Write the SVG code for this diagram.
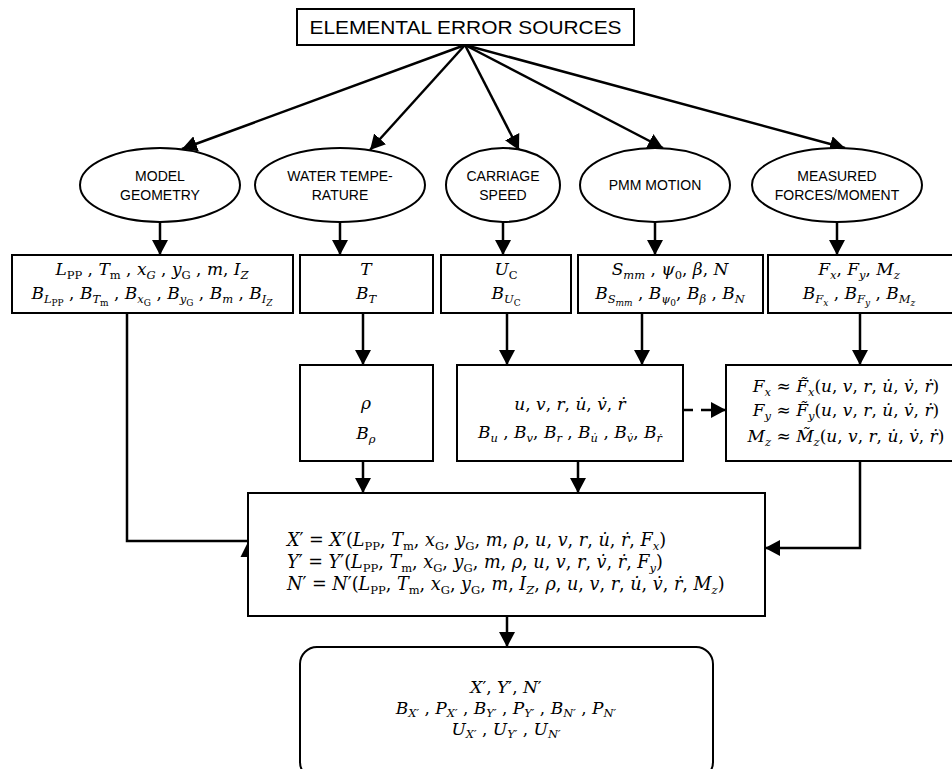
<svg xmlns="http://www.w3.org/2000/svg" width="952" height="769" viewBox="0 0 952 769">
<style>
.bx{fill:#fff;stroke:#000;stroke-width:2}
.lbl{font-family:"Liberation Sans",Arial,sans-serif;font-size:14px;text-anchor:middle;fill:#000}
.ttl{font-family:"Liberation Sans",Arial,sans-serif;font-size:19px;text-anchor:middle;fill:#000}
.m{font-family:"DejaVu Serif","Liberation Serif",serif;font-size:17px;fill:#000;text-anchor:middle}
.mb{font-size:17.6px}
.l{text-anchor:start}
.i{font-style:italic}
.sb{font-size:11.5px}
.ss{font-size:9px}
.c{fill:none;stroke:#000;stroke-width:2.5}
.d{fill:none;stroke:#000;stroke-width:2.5;stroke-dasharray:10,8}
</style>
<defs>
<marker id="ah" markerUnits="userSpaceOnUse" markerWidth="15" markerHeight="16" refX="15" refY="8" orient="auto">
<path d="M0,0 L15,8 L0,16 z" fill="#000"/>
</marker>
</defs>

<g id="connectors">
<line class="c" x1="465" y1="45" x2="182" y2="149" marker-end="url(#ah)"/>
<line class="c" x1="465" y1="45" x2="370" y2="150" marker-end="url(#ah)"/>
<line class="c" x1="465" y1="45" x2="519" y2="150" marker-end="url(#ah)"/>
<line class="c" x1="465" y1="45" x2="663" y2="148" marker-end="url(#ah)"/>
<line class="c" x1="465" y1="45" x2="845" y2="148" marker-end="url(#ah)"/>
<line class="c" x1="160" y1="222" x2="160" y2="255" marker-end="url(#ah)"/>
<line class="c" x1="340" y1="222" x2="340" y2="255" marker-end="url(#ah)"/>
<line class="c" x1="503" y1="222" x2="503" y2="255" marker-end="url(#ah)"/>
<line class="c" x1="655" y1="222" x2="655" y2="255" marker-end="url(#ah)"/>
<line class="c" x1="837" y1="222" x2="837" y2="255" marker-end="url(#ah)"/>
<polyline class="c" points="127,313 127,541 248,541"/>
<polygon points="248,542 240.5,557 255.5,557" fill="#000"/>
<line class="c" x1="363" y1="313" x2="363" y2="365" marker-end="url(#ah)"/>
<line class="c" x1="507" y1="313" x2="507" y2="365" marker-end="url(#ah)"/>
<line class="c" x1="642" y1="313" x2="642" y2="365" marker-end="url(#ah)"/>
<line class="c" x1="860" y1="313" x2="860" y2="365" marker-end="url(#ah)"/>
<line class="c" x1="363" y1="461" x2="363" y2="493" marker-end="url(#ah)"/>
<line class="c" x1="578" y1="461" x2="578" y2="493" marker-end="url(#ah)"/>
<line class="d" x1="683" y1="410" x2="726" y2="410" marker-end="url(#ah)"/>
<polyline class="c" points="860,461 860,548 765,548" marker-end="url(#ah)"/>
<line class="c" x1="507" y1="616" x2="507" y2="647" marker-end="url(#ah)"/>
</g>

<g id="n-top">
<rect class="bx" x="297" y="9" width="337" height="36"/>
<text class="ttl" x="465.5" y="34" textLength="312" lengthAdjust="spacingAndGlyphs">ELEMENTAL ERROR SOURCES</text>
</g>

<g id="n-model">
<ellipse class="bx" cx="160" cy="185" rx="80" ry="37"/>
<text class="lbl" x="160" y="181">MODEL</text>
<text class="lbl" x="160" y="200">GEOMETRY</text>
</g>
<g id="n-water">
<ellipse class="bx" cx="340" cy="185" rx="85" ry="37"/>
<text class="lbl" x="340" y="181">WATER TEMPE-</text>
<text class="lbl" x="340" y="200">RATURE</text>
</g>
<g id="n-carriage">
<ellipse class="bx" cx="503" cy="185" rx="57" ry="37"/>
<text class="lbl" x="503" y="181">CARRIAGE</text>
<text class="lbl" x="503" y="200">SPEED</text>
</g>
<g id="n-pmm">
<ellipse class="bx" cx="655" cy="185" rx="75" ry="37"/>
<text class="lbl" x="655" y="190">PMM MOTION</text>
</g>
<g id="n-measured">
<ellipse class="bx" cx="837" cy="185" rx="85" ry="37"/>
<text class="lbl" x="837" y="181">MEASURED</text>
<text class="lbl" x="837" y="200">FORCES/MOMENT</text>
</g>

<g id="n-geom">
<rect class="bx" x="12" y="255" width="281" height="58"/>
<text class="m" x="152" y="275"><tspan class="i">L</tspan><tspan class="sb" dy="4">PP</tspan><tspan dy="-4"> , </tspan><tspan class="i">T</tspan><tspan class="sb" dy="4">m</tspan><tspan dy="-4"> , </tspan><tspan class="i">x</tspan><tspan class="sb i" dy="4">G</tspan><tspan dy="-4"> , </tspan><tspan class="i">y</tspan><tspan class="sb" dy="4">G</tspan><tspan dy="-4"> , </tspan><tspan class="i">m</tspan><tspan>, </tspan><tspan class="i">I</tspan><tspan class="sb i" dy="4">Z</tspan></text>
<text class="m" x="152" y="299"><tspan class="i">B</tspan><tspan class="sb i" dy="4">L</tspan><tspan class="ss" dy="3">PP</tspan><tspan dy="-7"> , </tspan><tspan class="i">B</tspan><tspan class="sb i" dy="4">T</tspan><tspan class="ss" dy="3">m</tspan><tspan dy="-7"> ,  </tspan><tspan class="i">B</tspan><tspan class="sb i" dy="4">x</tspan><tspan class="ss" dy="3">G</tspan><tspan dy="-7"> , </tspan><tspan class="i">B</tspan><tspan class="sb i" dy="4">y</tspan><tspan class="ss" dy="3">G</tspan><tspan dy="-7"> , </tspan><tspan class="i">B</tspan><tspan class="sb i" dy="4">m</tspan><tspan dy="-4"> , </tspan><tspan class="i">B</tspan><tspan class="sb i" dy="4">I</tspan><tspan class="ss i" dy="3">Z</tspan></text>
</g>

<g id="n-temp">
<rect class="bx" x="300" y="255" width="133" height="58"/>
<text class="m i" x="366" y="275">T</text>
<text class="m" x="366" y="299"><tspan class="i">B</tspan><tspan class="sb i" dy="4">T</tspan></text>
</g>

<g id="n-speed">
<rect class="bx" x="441" y="255" width="130" height="58"/>
<text class="m" x="506" y="275"><tspan class="i">U</tspan><tspan class="sb" dy="4">C</tspan></text>
<text class="m" x="506" y="299"><tspan class="i">B</tspan><tspan class="sb i" dy="4">U</tspan><tspan class="ss" dy="3">C</tspan></text>
</g>

<g id="n-motion">
<rect class="bx" x="578" y="255" width="185" height="58"/>
<text class="m" x="670" y="275"><tspan class="i">S</tspan><tspan class="sb i" dy="4">mm</tspan><tspan dy="-4"> , </tspan><tspan class="i">ψ</tspan><tspan class="sb" dy="4">0</tspan><tspan dy="-4">, </tspan><tspan class="i">β</tspan><tspan>, </tspan><tspan class="i">N</tspan></text>
<text class="m" x="670" y="299"><tspan class="i">B</tspan><tspan class="sb i" dy="4">S</tspan><tspan class="ss i" dy="3">mm</tspan><tspan dy="-7"> , </tspan><tspan class="i">B</tspan><tspan class="sb i" dy="4">ψ</tspan><tspan class="ss" dy="3">0</tspan><tspan dy="-7">, </tspan><tspan class="i">B</tspan><tspan class="sb i" dy="4">β</tspan><tspan dy="-4"> , </tspan><tspan class="i">B</tspan><tspan class="sb i" dy="4">N</tspan></text>
</g>

<g id="n-forces">
<rect class="bx" x="768" y="255" width="190" height="58"/>
<text class="m" x="859" y="275"><tspan class="i">F</tspan><tspan class="sb i" dy="4">x</tspan><tspan dy="-4">, </tspan><tspan class="i">F</tspan><tspan class="sb i" dy="4">y</tspan><tspan dy="-4">, </tspan><tspan class="i">M</tspan><tspan class="sb i" dy="4">z</tspan></text>
<text class="m" x="859" y="299"><tspan class="i">B</tspan><tspan class="sb i" dy="4">F</tspan><tspan class="ss i" dy="3">x</tspan><tspan dy="-7"> , </tspan><tspan class="i">B</tspan><tspan class="sb i" dy="4">F</tspan><tspan class="ss i" dy="3">y</tspan><tspan dy="-7"> , </tspan><tspan class="i">B</tspan><tspan class="sb i" dy="4">M</tspan><tspan class="ss i" dy="3">z</tspan></text>
</g>

<g id="n-rho">
<rect class="bx" x="300" y="365" width="133" height="96"/>
<text class="m i" x="366" y="409">ρ</text>
<text class="m" x="366" y="439"><tspan class="i">B</tspan><tspan class="sb i" dy="4">ρ</tspan></text>
</g>

<g id="n-kin">
<rect class="bx" x="457" y="365" width="226" height="96"/>
<text class="m" x="570" y="410"><tspan class="i">u</tspan>, <tspan class="i">v</tspan>, <tspan class="i">r</tspan>, <tspan class="i">u̇</tspan>, <tspan class="i">v̇</tspan>, <tspan class="i">ṙ</tspan></text>
<text class="m" x="570" y="438"><tspan class="i">B</tspan><tspan class="sb i" dy="4">u</tspan><tspan dy="-4"> , </tspan><tspan class="i">B</tspan><tspan class="sb i" dy="4">v</tspan><tspan dy="-4">, </tspan><tspan class="i">B</tspan><tspan class="sb i" dy="4">r</tspan><tspan dy="-4"> , </tspan><tspan class="i">B</tspan><tspan class="sb i" dy="4">u̇</tspan><tspan dy="-4"> , </tspan><tspan class="i">B</tspan><tspan class="sb i" dy="4">v̇</tspan><tspan dy="-4">, </tspan><tspan class="i">B</tspan><tspan class="sb i" dy="4">ṙ</tspan></text>
</g>

<g id="n-approx">
<rect class="bx" x="726" y="365" width="232" height="96"/>
<text class="m" x="846" y="392"><tspan class="i">F</tspan><tspan class="sb i" dy="4">x</tspan><tspan dy="-4"> ≈ </tspan><tspan class="i">F̃</tspan><tspan class="sb i" dy="4">x</tspan><tspan dy="-4">(</tspan><tspan class="i">u</tspan>, <tspan class="i">v</tspan>, <tspan class="i">r</tspan>, <tspan class="i">u̇</tspan>, <tspan class="i">v̇</tspan>, <tspan class="i">ṙ</tspan>)</text>
<text class="m" x="846" y="416"><tspan class="i">F</tspan><tspan class="sb i" dy="4">y</tspan><tspan dy="-4"> ≈ </tspan><tspan class="i">F̃</tspan><tspan class="sb i" dy="4">y</tspan><tspan dy="-4">(</tspan><tspan class="i">u</tspan>, <tspan class="i">v</tspan>, <tspan class="i">r</tspan>, <tspan class="i">u̇</tspan>, <tspan class="i">v̇</tspan>, <tspan class="i">ṙ</tspan>)</text>
<text class="m" x="846" y="442"><tspan class="i">M</tspan><tspan class="sb i" dy="4">z</tspan><tspan dy="-4"> ≈ </tspan><tspan class="i">M̃</tspan><tspan class="sb i" dy="4">z</tspan><tspan dy="-4">(</tspan><tspan class="i">u</tspan>, <tspan class="i">v</tspan>, <tspan class="i">r</tspan>, <tspan class="i">u̇</tspan>, <tspan class="i">v̇</tspan>, <tspan class="i">ṙ</tspan>)</text>
</g>

<g id="n-main">
<rect class="bx" x="248" y="493" width="517" height="123"/>
<text class="m mb l" x="287" y="546"><tspan class="i">X</tspan><tspan>′ = </tspan><tspan class="i">X</tspan><tspan>′(</tspan><tspan class="i">L</tspan><tspan class="sb" dy="4">PP</tspan><tspan dy="-4">, </tspan><tspan class="i">T</tspan><tspan class="sb" dy="4">m</tspan><tspan dy="-4">, </tspan><tspan class="i">x</tspan><tspan class="sb" dy="4">G</tspan><tspan dy="-4">, </tspan><tspan class="i">y</tspan><tspan class="sb" dy="4">G</tspan><tspan dy="-4">, </tspan><tspan class="i">m</tspan>, <tspan class="i">ρ</tspan>, <tspan class="i">u</tspan>, <tspan class="i">v</tspan>, <tspan class="i">r</tspan>, <tspan class="i">u̇</tspan>, <tspan class="i">ṙ</tspan>, <tspan class="i">F</tspan><tspan class="sb i" dy="4">x</tspan><tspan dy="-4">)</tspan></text>
<text class="m mb l" x="287" y="568"><tspan class="i">Y</tspan><tspan>′ = </tspan><tspan class="i">Y</tspan><tspan>′(</tspan><tspan class="i">L</tspan><tspan class="sb" dy="4">PP</tspan><tspan dy="-4">, </tspan><tspan class="i">T</tspan><tspan class="sb" dy="4">m</tspan><tspan dy="-4">, </tspan><tspan class="i">x</tspan><tspan class="sb" dy="4">G</tspan><tspan dy="-4">, </tspan><tspan class="i">y</tspan><tspan class="sb" dy="4">G</tspan><tspan dy="-4">, </tspan><tspan class="i">m</tspan>, <tspan class="i">ρ</tspan>, <tspan class="i">u</tspan>, <tspan class="i">v</tspan>, <tspan class="i">r</tspan>, <tspan class="i">v̇</tspan>, <tspan class="i">ṙ</tspan>, <tspan class="i">F</tspan><tspan class="sb i" dy="4">y</tspan><tspan dy="-4">)</tspan></text>
<text class="m mb l" x="287" y="590"><tspan class="i">N</tspan><tspan>′ = </tspan><tspan class="i">N</tspan><tspan>′(</tspan><tspan class="i">L</tspan><tspan class="sb" dy="4">PP</tspan><tspan dy="-4">, </tspan><tspan class="i">T</tspan><tspan class="sb" dy="4">m</tspan><tspan dy="-4">, </tspan><tspan class="i">x</tspan><tspan class="sb" dy="4">G</tspan><tspan dy="-4">, </tspan><tspan class="i">y</tspan><tspan class="sb" dy="4">G</tspan><tspan dy="-4">, </tspan><tspan class="i">m</tspan>, <tspan class="i">I</tspan><tspan class="sb i" dy="4">Z</tspan><tspan dy="-4">, </tspan><tspan class="i">ρ</tspan>, <tspan class="i">u</tspan>, <tspan class="i">v</tspan>, <tspan class="i">r</tspan>, <tspan class="i">u̇</tspan>, <tspan class="i">v̇</tspan>, <tspan class="i">ṙ</tspan>, <tspan class="i">M</tspan><tspan class="sb i" dy="4">z</tspan><tspan dy="-4">)</tspan></text>
</g>

<g id="n-result">
<rect class="bx" x="300" y="647" width="413" height="132" rx="17" ry="17"/>
<text class="m" x="506" y="693"><tspan class="i">X</tspan>′, <tspan class="i">Y</tspan>′, <tspan class="i">N</tspan>′</text>
<text class="m" x="506" y="714"><tspan class="i">B</tspan><tspan class="sb i" dy="3">X′</tspan><tspan dy="-3"> , </tspan><tspan class="i">P</tspan><tspan class="sb i" dy="3">X′</tspan><tspan dy="-3"> , </tspan><tspan class="i">B</tspan><tspan class="sb i" dy="3">Y′</tspan><tspan dy="-3"> , </tspan><tspan class="i">P</tspan><tspan class="sb i" dy="3">Y′</tspan><tspan dy="-3"> , </tspan><tspan class="i">B</tspan><tspan class="sb i" dy="3">N′</tspan><tspan dy="-3"> , </tspan><tspan class="i">P</tspan><tspan class="sb i" dy="3">N′</tspan></text>
<text class="m" x="506" y="735"><tspan class="i">U</tspan><tspan class="sb i" dy="3">X′</tspan><tspan dy="-3"> , </tspan><tspan class="i">U</tspan><tspan class="sb i" dy="3">Y′</tspan><tspan dy="-3"> , </tspan><tspan class="i">U</tspan><tspan class="sb i" dy="3">N′</tspan></text>
</g>
</svg>
